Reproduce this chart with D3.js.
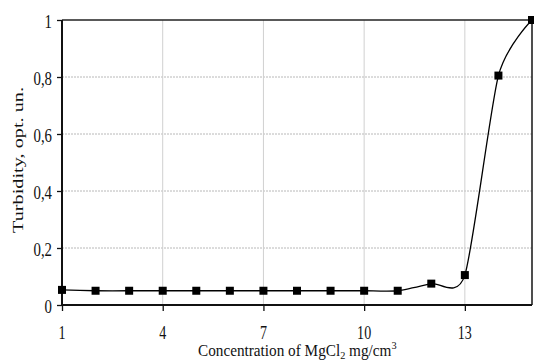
<!DOCTYPE html>
<html>
<head>
<meta charset="utf-8">
<script src="https://cdn.jsdelivr.net/npm/d3@7"></script>
<style>
  html, body { margin: 0; padding: 0; background: #fff; }
  svg { display: block; font-family: "Liberation Serif", "Times New Roman", serif; }
</style>
</head>
<body>
<svg id="chart" width="534" height="362"></svg>
<script>
// ---- data ----
const concentration = [1, 2, 3, 4, 5, 6, 7, 8, 9, 10, 11, 12, 13, 14, 15];
const turbidity = [0.053, 0.05, 0.05, 0.05, 0.05, 0.05, 0.05, 0.05, 0.05, 0.05, 0.05, 0.075, 0.105, 0.805, 1.0];
const xTickValues = [1, 4, 7, 10, 13];
const yTickValues = [0, 0.2, 0.4, 0.6, 0.8, 1];
const yTickLabels = ["0", "0,2", "0,4", "0,6", "0,8", "1"];
const xTitle = "Concentration of MgCl";
const yTitle = "Turbidity, opt. un.";

const svg = d3.select("#chart");
const x = d3.scaleLinear().domain([1, 15]).range([62, 532]);
const y = d3.scaleLinear().domain([0, 1]).range([305, 20]);
const SX = 0.76; // horizontal glyph compression of the original image

// grid
svg.append("g").selectAll("line")
  .data(yTickValues.filter(v => v > 0 && v < 1))
  .join("line")
  .attr("x1", x(1)).attr("x2", x(15))
  .attr("y1", d => y(d)).attr("y2", d => y(d))
  .attr("stroke", "#b8b8b8").attr("stroke-width", 1)
  .attr("stroke-dasharray", "2,1");
svg.append("g").selectAll("line")
  .data(xTickValues.filter(v => v > 1))
  .join("line")
  .attr("x1", d => x(d)).attr("x2", d => x(d))
  .attr("y1", y(0)).attr("y2", y(1))
  .attr("stroke", "#d0d0d0").attr("stroke-width", 1);

// frame
svg.append("line").attr("x1", x(1)).attr("x2", x(15)).attr("y1", y(1)).attr("y2", y(1))
  .attr("stroke", "#222").attr("stroke-width", 1.6);
svg.append("line").attr("x1", x(15)).attr("x2", x(15)).attr("y1", y(1)).attr("y2", y(0))
  .attr("stroke", "#222").attr("stroke-width", 1.6);

// axes
const yAxis = d3.axisLeft(y).tickValues(yTickValues).tickSize(5).tickFormat(() => "");
const xAxis = d3.axisBottom(x).tickValues(xTickValues).tickSize(6).tickFormat(() => "");
const gy = svg.append("g").attr("transform", `translate(${x(1)},0)`).call(yAxis);
const gx = svg.append("g").attr("transform", `translate(0,${y(0)})`).call(xAxis);
[gx, gy].forEach(g => {
  g.select(".domain").attr("stroke", "#111").attr("stroke-width", 2);
  g.selectAll(".tick line").attr("stroke", "#111").attr("stroke-width", 1.3);
});
gx.select(".domain").attr("d", `M${x(1)},0H${x(15)}`);
gy.select(".domain").attr("d", `M0,${y(0)}V${y(1)}`);

// tick labels (compressed serif)
yTickValues.forEach((v, i) => {
  svg.append("g").attr("transform", `translate(52,${y(v) + 7.5}) scale(0.78,1)`)
    .append("text").attr("text-anchor", "end").attr("font-size", 19).attr("fill", "#111")
    .text(yTickLabels[i]);
});
xTickValues.forEach(v => {
  svg.append("g").attr("transform", `translate(${x(v)},339) scale(${SX},1)`)
    .append("text").attr("text-anchor", "middle").attr("font-size", 18.5).attr("fill", "#111")
    .text(String(v));
});

// x title
const xt = svg.append("g");
const xtText = xt.append("text").attr("font-size", 16.3).attr("fill", "#111");
xtText.append("tspan").text(xTitle);
xtText.append("tspan").attr("font-size", 11).attr("dy", 3).text("2");
xtText.append("tspan").attr("dy", -3).text(" mg/cm");
xtText.append("tspan").attr("font-size", 11).attr("dy", -7).text("3");
const w = xtText.node().getBBox().width;
xt.attr("transform", `translate(198,356) scale(${199 / w},1)`);

// y title
const yt = svg.append("g");
const ytText = yt.append("text").attr("font-size", 14.5).attr("fill", "#111")
  .attr("text-anchor", "middle").text(yTitle);
const wy = ytText.node().getComputedTextLength();
yt.attr("transform", `translate(22.5,160) rotate(-90) scale(${146 / wy},1)`);

// line
const line = d3.line().x((d, i) => x(concentration[i])).y(d => y(d))
  .curve(d3.curveCardinal.tension(0.3));
svg.append("path").datum(turbidity).attr("d", line)
  .attr("fill", "none").attr("stroke", "#000").attr("stroke-width", 1.3);

// markers
svg.append("g").selectAll("rect").data(turbidity).join("rect")
  .attr("x", (d, i) => x(concentration[i]) - 4)
  .attr("y", d => y(d) - 4)
  .attr("width", 8).attr("height", 8)
  .attr("fill", "#000");
</script>
</body>
</html>
